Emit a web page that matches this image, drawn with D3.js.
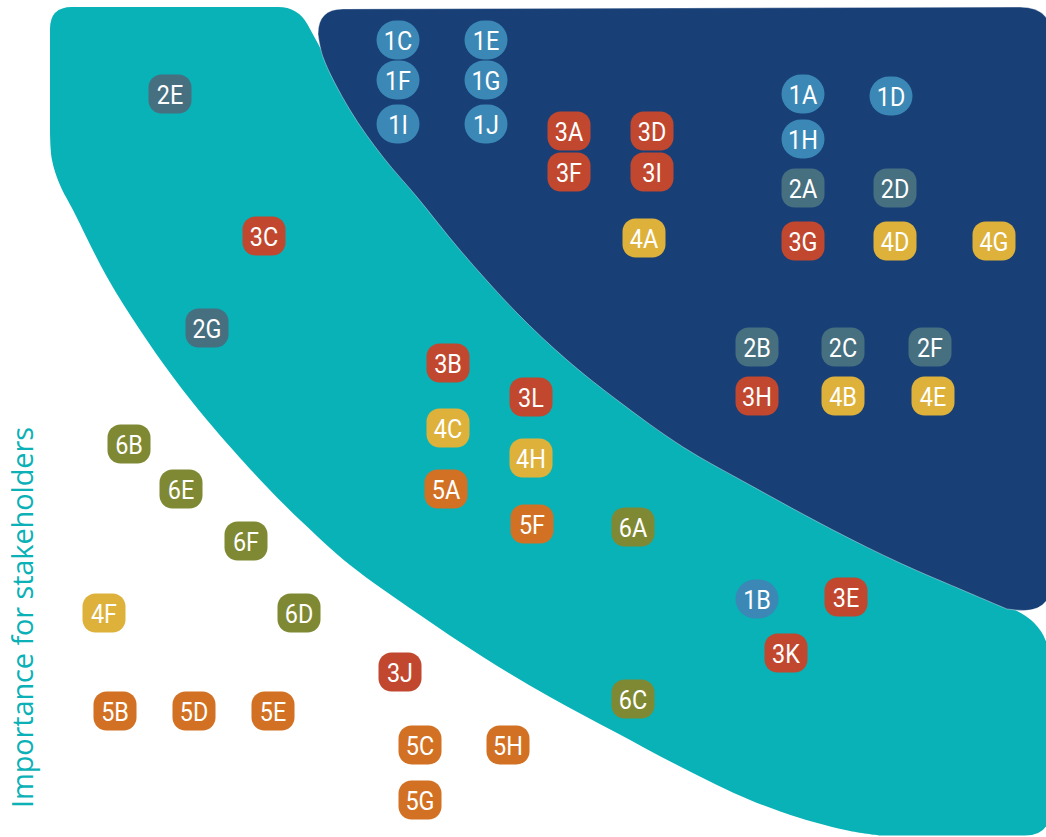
<!DOCTYPE html>
<html>
<head>
<meta charset="utf-8">
<script src="https://cdn.jsdelivr.net/npm/d3@7"></script>
<style>
  html, body { margin: 0; padding: 0; background: #ffffff; }
  svg { display: block; }
</style>
</head>
<body>
<svg id="chart" width="1046" height="837"></svg>
<script>
// Materiality matrix: x = importance for the business, y = importance for stakeholders

// Topic codes (digit = theme group)
const topics = [
  "1A","1B","1C","1D","1E","1F","1G","1H","1I","1J",
  "2A","2B","2C","2D","2E","2F","2G",
  "3A","3B","3C","3D","3E","3F","3G","3H","3I","3J","3K","3L",
  "4A","4B","4C","4D","4E","4F","4G","4H",
  "5A","5B","5C","5D","5E","5F","5G","5H",
  "6A","6B","6C","6D","6E","6F"
];

// Importance for the business
const businessScore = [
  80.3, 75.7, 39.8, 89.1, 48.6, 39.8, 48.6, 80.3, 39.8, 48.6,
  80.3, 75.7, 84.3, 89.5, 17.0, 93.0, 20.7,
  56.9, 44.8, 26.4, 65.2, 84.6, 56.9, 80.3, 75.7, 65.2, 40.0, 78.6, 53.1,
  64.4, 84.3, 44.8, 89.5, 93.3, 10.4, 99.4, 53.1,
  44.6, 11.5, 42.0, 19.4, 27.3, 53.2, 42.0, 50.8,
  63.3, 12.9, 63.3, 29.9, 18.1, 24.6
];

// Importance for stakeholders
const stakeholderScore = [
  74.3, 23.8, 79.7, 74.1, 79.7, 75.7, 75.7, 69.8, 71.3, 71.3,
  64.9, 49.0, 49.0, 64.9, 74.3, 49.0, 50.9,
  70.6, 47.4, 60.1, 70.6, 24.0, 66.5, 59.6, 44.1, 66.5, 16.5, 18.4, 44.0,
  59.9, 44.1, 40.9, 59.6, 44.1, 22.4, 59.6, 37.9,
  34.8, 12.6, 9.2, 12.6, 12.6, 31.3, 3.7, 9.2,
  31.0, 39.3, 13.8, 22.4, 34.8, 29.6
];

// Theme groups and their colours
const groups = ["1", "2", "3", "4", "5", "6"];
const groupColors = ["#3b88b6", "#466f80", "#c1472f", "#ddb13a", "#d27123", "#7f8933"];

// Zone boundaries, in score units
// Highest-priority zone: curved lower-left edge, from the top down to the right
const highZoneEdge = [
  [31.8, 80.3], [32.3, 78.0], [35.0, 72.7], [38.3, 68.0], [41.7, 64.0], [46.0, 58.7],
  [51.7, 52.4], [56.7, 47.7], [61.7, 43.7], [68.3, 39.0], [75.0, 35.2], [83.3, 30.7],
  [90.0, 27.4], [96.7, 24.5], [100.7, 22.8]
];
const highZoneCorners = [[105.2, 22.3], [105.2, 83.0], [31.8, 82.8]];

// Middle zone: curved lower-left edge, from the top-left down to the bottom
const midZoneEdge = [
  [5.0, 70.7], [5.2, 67.7], [6.0, 65.2], [7.3, 62.7], [10.7, 56.0], [14.0, 50.7],
  [17.3, 46.0], [20.7, 41.7], [23.3, 38.7], [26.7, 35.0], [30.0, 31.7], [35.0, 27.2],
  [41.7, 22.4], [48.3, 18.0], [55.0, 14.0], [61.7, 10.4], [68.3, 6.9], [75.0, 3.7],
  [80.0, 1.9], [85.0, 0.6], [88.0, 0.15]
];
const midZoneCorners = [[105.0, 0.15], [105.0, 21.2], [98.0, 24.2], [70.0, 58.7], [34.7, 74.0], [29.8, 83.0], [5.0, 83.0]];

const axisTitle = "Importance for stakeholders";

const W = 1046, H = 837;
const svg = d3.select("#chart");

const x = d3.scaleLinear().domain([0, 104.6]).range([0, W]);
const y = d3.scaleLinear().domain([0, 83.7]).range([H, 0]);
const color = d3.scaleOrdinal().domain(groups).range(groupColors);

function toward(from, to, dist) {
  const dx = to[0] - from[0], dy = to[1] - from[1];
  const len = Math.hypot(dx, dy);
  return [from[0] + dx / len * dist, from[1] + dy / len * dist];
}

// Closed zone outline: a smooth edge, then straight sides with rounded corners
function zonePath(edge, corners, radii) {
  const ep = edge.map(([a, b]) => [x(a), y(b)]);
  let d = d3.line().curve(d3.curveCatmullRom.alpha(0.5))(ep);
  const cp = corners.map(([a, b]) => [x(a), y(b)]);
  const pts = [ep[ep.length - 1], ...cp, ep[0]];
  cp.forEach((cur, i) => {
    const r = radii[i];
    if (!r) { d += `L${cur[0]},${cur[1]}`; return; }
    const a = toward(cur, pts[i], r), b = toward(cur, pts[i + 2], r);
    d += `L${a[0]},${a[1]}Q${cur[0]},${cur[1]},${b[0]},${b[1]}`;
  });
  return d + "Z";
}

svg.append("path")
  .attr("d", zonePath(midZoneEdge, midZoneCorners, [25, 40, 0, 0, 0, 20, 22]))
  .attr("fill", "#08b2b7");

svg.append("path")
  .attr("d", zonePath(highZoneEdge, highZoneCorners, [35, 32, 25]))
  .attr("fill", "#183f76")
  .attr("stroke", "rgba(255,255,255,0.55)")
  .attr("stroke-width", 0.7);

// Axis title
svg.append("text")
  .attr("transform", `translate(33,808) rotate(-90)`)
  .attr("font-family", "'Open Sans', Lato, sans-serif")
  .attr("font-weight", 400)
  .attr("font-size", 29)
  .attr("textLength", 381)
  .attr("lengthAdjust", "spacing")
  .attr("fill", "#0bb1b6")
  .text(axisTitle);

// Topic badges
const items = topics.map((t, i) => ({
  code: t, group: t[0], bx: businessScore[i], sy: stakeholderScore[i]
}));

const badge = svg.append("g").selectAll("g")
  .data(items)
  .join("g")
  .attr("transform", d => `translate(${x(d.bx)},${y(d.sy)})`);

badge.append("rect")
  .attr("x", -21.5).attr("y", -19.5)
  .attr("width", 43).attr("height", 39)
  .attr("rx", d => d.group === "1" ? 19.5 : 13)
  .attr("fill", d => color(d.group));

badge.append("text")
  .attr("text-anchor", "middle")
  .attr("y", 9.5)
  .attr("transform", "scale(0.9,1)")
  .attr("font-family", "Roboto, 'Liberation Sans', sans-serif")
  .attr("font-size", 26)
  .attr("fill", "#ffffff")
  .text(d => d.code);
</script>
</body>
</html>
